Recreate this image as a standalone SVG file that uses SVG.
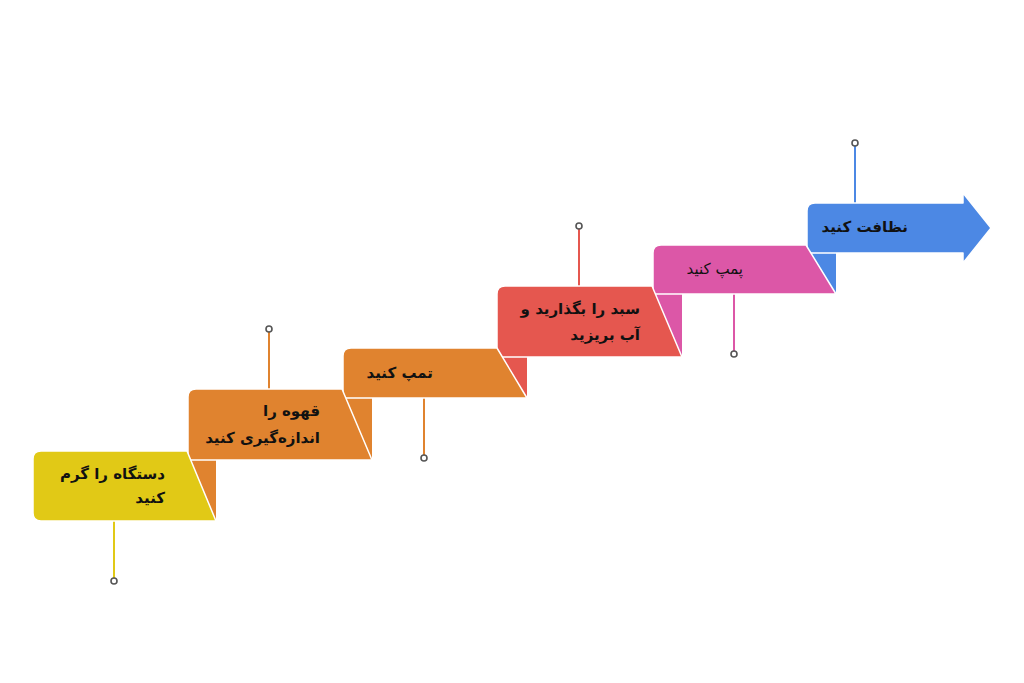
<svg xmlns="http://www.w3.org/2000/svg" width="1024" height="683" viewBox="0 0 1024 683">
<style>
.bar{stroke:#fff;stroke-width:1.5;stroke-linejoin:round}
.pin{stroke-width:2;fill:none}
.dot{fill:#fff;stroke:#555;stroke-width:1.6}
.t{font-family:"DejaVu Sans","Noto Sans",sans-serif;font-size:15px;font-weight:bold;fill:#111;text-anchor:end}
.tn{font-weight:normal}
.y{fill:#E1C916}.o{fill:#E0832F}.r{fill:#E5574F}.p{fill:#DC57A7}.b{fill:#4C88E4}
</style>
<rect width="1024" height="683" fill="#fff"/>
<g id="connectors">
<line class="pin" x1="114" y1="521" x2="114" y2="578" stroke="#E1C916"/>
<line class="pin" x1="269" y1="389" x2="269" y2="332" stroke="#E0832F"/>
<line class="pin" x1="424" y1="398" x2="424" y2="455" stroke="#E0832F"/>
<line class="pin" x1="579" y1="286" x2="579" y2="229" stroke="#E5574F"/>
<line class="pin" x1="734" y1="294" x2="734" y2="351" stroke="#DC57A7"/>
<line class="pin" x1="855" y1="203" x2="855" y2="146" stroke="#4C88E4"/>
<circle class="dot" cx="114" cy="581" r="3"/>
<circle class="dot" cx="269" cy="329" r="3"/>
<circle class="dot" cx="424" cy="458" r="3"/>
<circle class="dot" cx="579" cy="226" r="3"/>
<circle class="dot" cx="734" cy="354" r="3"/>
<circle class="dot" cx="855" cy="143" r="3"/>
</g>
<g id="step6">
<rect class="b" x="807" y="250" width="29" height="44"/>
<path class="b bar" d="M815,203 H963 V193 L991,228 L963,263 V253 H807 V211 Q807,203 815,203 Z"/>
<text class="t" x="908" y="232">نظافت کنید</text>
</g>
<g id="step5">
<rect class="p" x="652" y="290" width="30" height="67"/>
<path class="p bar" d="M661,245 H806 L836,294 H653 V253 Q653,245 661,245 Z"/>
<text class="t tn" x="743" y="274">پمپ کنید</text>
</g>
<g id="step4">
<rect class="r" x="497" y="353" width="30" height="45"/>
<path class="r bar" d="M505,286 H652 L682,357 H497 V294 Q497,286 505,286 Z"/>
<text class="t" x="640" y="314">سبد را بگذارید و</text>
<text class="t" x="640" y="340">آب بریزید</text>
</g>
<g id="step3">
<rect class="o" x="342" y="394" width="30" height="66"/>
<path class="o bar" d="M351,348 H497 L527,398 H343 V356 Q343,348 351,348 Z"/>
<text class="t" x="433" y="378">تمپ کنید</text>
</g>
<g id="step2">
<rect class="o" x="187" y="456" width="29" height="65"/>
<path class="o bar" d="M196,389 H342 L372,460 H188 V397 Q188,389 196,389 Z"/>
<text class="t" x="320" y="416">قهوه را</text>
<text class="t" x="320" y="443">اندازه‌گیری کنید</text>
</g>
<g id="step1">
<path class="y bar" d="M41,451 H187 L216,521 H41 Q33,521 33,513 V459 Q33,451 41,451 Z"/>
<text class="t" x="165" y="479">دستگاه را گرم</text>
<text class="t" x="165" y="503">کنید</text>
</g>
</svg>
